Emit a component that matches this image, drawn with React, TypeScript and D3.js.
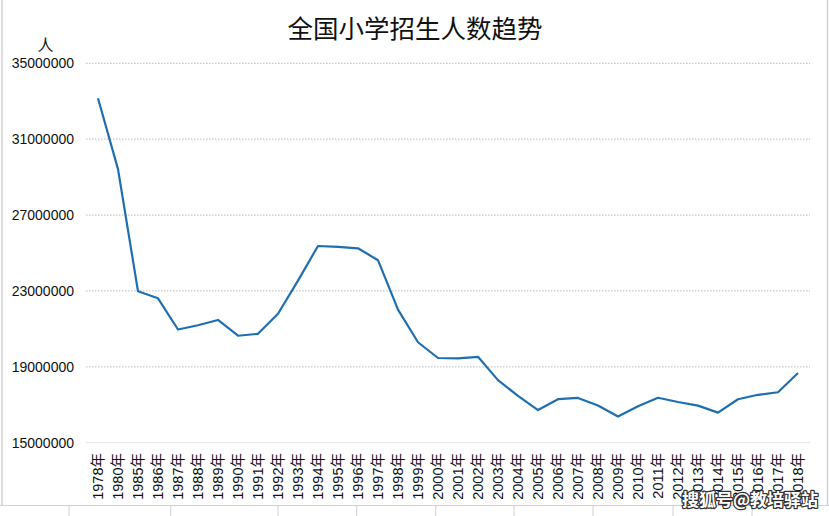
import React from "react";
import * as d3 from "d3";

const years = ["1978","1980","1985","1986","1987","1988","1989","1990","1991","1992","1993","1994","1995","1996","1997","1998","1999","2000","2001","2002","2003","2004","2005","2006","2007","2008","2009","2010","2011","2012","2013","2014","2015","2016","2017","2018"];
const enrollment = [33154000,29423000,22982000,22612000,20966000,21190000,21470000,20639000,20740000,21800000,23546000,25370000,25318000,25247000,24620000,22015000,20295000,19465000,19442000,19528000,18299000,17469000,16720000,17294000,17361000,16957000,16378000,16917000,17367000,17147000,16954000,16584000,17290000,17525000,17661000,18673000];
const yTicks = [15000000,19000000,23000000,27000000,31000000,35000000];

const W = 829, H = 516;
const x0 = 88, x1 = 808;
const yTop = 63.3, yBot = 442.7;

export default function App() {
  const x = d3.scaleBand<string>().domain(years).range([x0, x1]);
  const y = d3.scaleLinear().domain([15000000, 35000000]).range([yBot, yTop]);
  const line = d3.line<number>()
    .x((_, i) => (x(years[i]) as number) + x.bandwidth() / 2)
    .y((d) => y(d));
  const num = "'Liberation Sans', Arial, sans-serif";
  const cjk = "'Noto Sans CJK SC', sans-serif";
  const seps = [69, 170.7, 278, 356.7, 435.7, 514, 593, 673, 752];
  return (
    <svg width={W} height={H} style={{ position: "absolute", left: 0, top: 0, background: "#fff" }}>
      <rect x={0} y={0} width={W} height={H} fill="#fff" />
      <line x1={2} x2={2} y1={0} y2={505} stroke="#d0d0d0" strokeWidth={1.5} />
      <line x1={827.5} x2={827.5} y1={0} y2={505} stroke="#d0d0d0" strokeWidth={1.5} />
      <line x1={0} x2={W} y1={505.5} y2={505.5} stroke="#d0d0d0" strokeWidth={1} />
      {seps.map((s, i) => (
        <line key={i} x1={s} x2={s} y1={506} y2={H} stroke="#d0d0d0" strokeWidth={1} />
      ))}
      <text x={415} y={38} textAnchor="middle" fontFamily={cjk} fontSize={25.5} fill="#111">全国小学招生人数趋势</text>
      <text x={45.5} y={51} textAnchor="middle" fontFamily={cjk} fontSize={16} fill="#111">人</text>
      {yTicks.map((t) => (
        <g key={t}>
          {t !== 15000000 && (
            <line x1={86} x2={810} y1={y(t)} y2={y(t)} stroke="#c8c8c8" strokeWidth={1.3} strokeDasharray="1.5 1.5" />
          )}
          <text x={74} y={y(t)} dy="0.35em" textAnchor="end" fontFamily={num} fontSize={14} fill="#111">{t}</text>
        </g>
      ))}
      <line x1={86} x2={810} y1={yBot} y2={yBot} stroke="#e2e2e2" strokeWidth={1} />
      <path d={line(enrollment) || ""} fill="none" stroke="#1f6fb0" strokeWidth={2.2} strokeLinejoin="round" />
      {years.map((yr) => {
        const cx = (x(yr) as number) + x.bandwidth() / 2;
        return (
          <text key={yr} transform={`translate(${cx},453) rotate(-90)`} dy="0.35em" textAnchor="end" fontFamily={cjk} fontSize={14.5} fill="#111">
            <tspan fontFamily={num}>{yr}</tspan>年
          </text>
        );
      })}
      <text x={682} y={506} fontFamily={cjk} fontSize={17} fontWeight="bold" fill="#fff" stroke="#333" strokeWidth={2.5} paintOrder="stroke" strokeLinejoin="round">搜狐号@教培驿站</text>
    </svg>
  );
}
